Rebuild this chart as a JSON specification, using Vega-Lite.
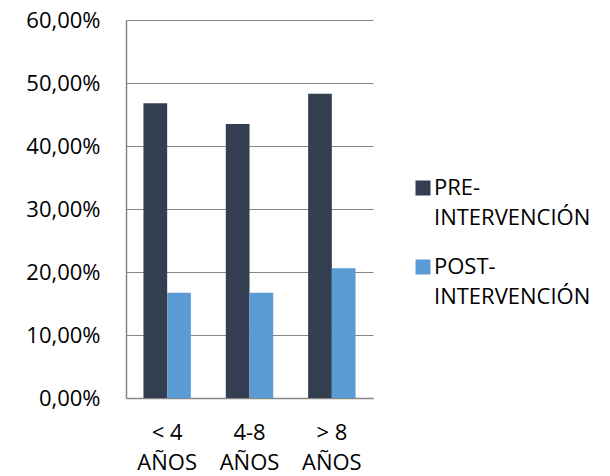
{
  "$schema": "https://vega.github.io/schema/vega-lite/v6.json",
  "width": 247,
  "height": 378,
  "autosize": {"type": "none"},
  "padding": {"left": 126, "top": 20, "right": 237, "bottom": 78},
  "background": "white",
  "config": {
    "view": {"stroke": null},
    "font": "Open Sans"
  },
  "data": {
    "values": [
      {"grupo": "< 4 AÑOS", "fase": "PRE-INTERVENCIÓN", "valor": 0.468},
      {"grupo": "< 4 AÑOS", "fase": "POST-INTERVENCIÓN", "valor": 0.167},
      {"grupo": "4-8 AÑOS", "fase": "PRE-INTERVENCIÓN", "valor": 0.435},
      {"grupo": "4-8 AÑOS", "fase": "POST-INTERVENCIÓN", "valor": 0.167},
      {"grupo": "> 8 AÑOS", "fase": "PRE-INTERVENCIÓN", "valor": 0.483},
      {"grupo": "> 8 AÑOS", "fase": "POST-INTERVENCIÓN", "valor": 0.206}
    ]
  },
  "mark": {"type": "bar"},
  "encoding": {
    "x": {
      "field": "grupo",
      "type": "nominal",
      "sort": ["< 4 AÑOS", "4-8 AÑOS", "> 8 AÑOS"],
      "scale": {"paddingInner": 0.424, "paddingOuter": 0.212},
      "axis": {
        "title": null,
        "labelAngle": 0,
        "ticks": false,
        "domainColor": "#868686",
        "domainWidth": 1.5,
        "labelFontSize": 22,
        "labelColor": "#000000",
        "labelPadding": 24,
        "labelLineHeight": 30,
        "labelBaseline": "top",
        "labelOverlap": false,
        "labelExpr": "[replace(datum.label, ' AÑOS', ''), 'AÑOS']"
      }
    },
    "xOffset": {
      "field": "fase",
      "type": "nominal",
      "sort": ["PRE-INTERVENCIÓN", "POST-INTERVENCIÓN"]
    },
    "y": {
      "field": "valor",
      "type": "quantitative",
      "scale": {"domain": [0, 0.6], "nice": false},
      "axis": {
        "title": null,
        "values": [0, 0.1, 0.2, 0.3, 0.4, 0.5, 0.6],
        "ticks": false,
        "domainColor": "#868686",
        "domainWidth": 1.5,
        "gridColor": "#868686",
        "gridWidth": 1.2,
        "labelFontSize": 22,
        "labelColor": "#000000",
        "labelPadding": 26,
        "labelOverlap": false,
        "labelExpr": "replace(format(datum.value, '.2%'), '.', ',')"
      }
    },
    "color": {
      "field": "fase",
      "type": "nominal",
      "sort": ["PRE-INTERVENCIÓN", "POST-INTERVENCIÓN"],
      "scale": {"range": ["#333F50", "#5B9BD5"]},
      "legend": {
        "title": null,
        "orient": "none",
        "legendX": 286,
        "legendY": 157,
        "symbolType": "square",
        "symbolSize": 225,
        "symbolStrokeWidth": 0,
        "labelFontSize": 22,
        "labelColor": "#000000",
        "labelOffset": 0,
        "labelLimit": 300,
        "rowPadding": 27,
        "labelExpr": "[split(datum.label, '-')[0] + '-', split(datum.label, '-')[1]]",
        "encode": {
          "labels": {"update": {"lineHeight": {"value": 30}}}
        }
      }
    }
  }
}
